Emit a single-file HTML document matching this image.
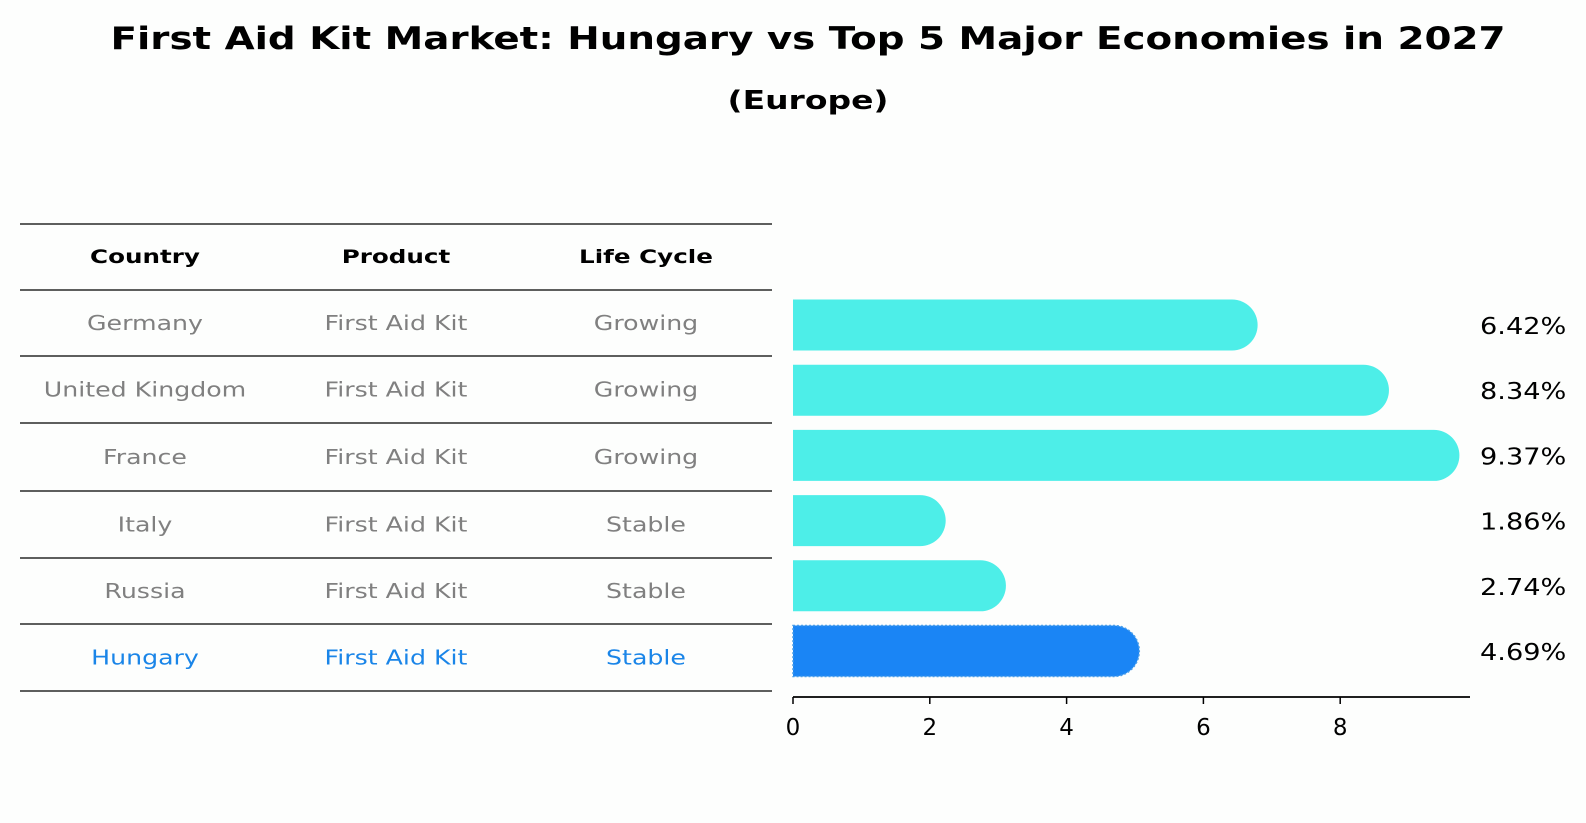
<!DOCTYPE html>
<html><head><meta charset="utf-8"><style>
body{margin:0;background:#fdfefd;}
svg{display:block;font-family:"DejaVu Sans","Liberation Sans",sans-serif;}
</style></head><body>
<svg id="c" width="1586" height="823" viewBox="0 0 1586 823">
<text x="808" y="49" text-anchor="middle" font-size="31" font-weight="bold" textLength="1395" lengthAdjust="spacingAndGlyphs">First Aid Kit Market: Hungary vs Top 5 Major Economies in 2027</text>
<text x="808" y="109" text-anchor="middle" font-size="26" font-weight="bold" textLength="161" lengthAdjust="spacingAndGlyphs">(Europe)</text>
<g id="tbl"></g>
<g id="bars"></g>
</svg>
<script>
const countries=["Germany","United Kingdom","France","Italy","Russia","Hungary"];
const products=["First Aid Kit","First Aid Kit","First Aid Kit","First Aid Kit","First Aid Kit","First Aid Kit"];
const lifecycle=["Growing","Growing","Growing","Stable","Stable","Stable"];
const values=[6.42,8.34,9.37,1.86,2.74,4.69];
const ticks=[0,2,4,6,8];
const NS="http://www.w3.org/2000/svg";
function mk(tag,attrs,parent,txt){const e=document.createElementNS(NS,tag);for(const k in attrs)e.setAttribute(k,attrs[k]);if(txt!==undefined)e.textContent=txt;parent.appendChild(e);return e;}
function widen(el,k){const w=el.getComputedTextLength();if(w>0){el.setAttribute('textLength',(w*k).toFixed(1));el.setAttribute('lengthAdjust','spacingAndGlyphs');}}
const tbl=document.getElementById('tbl'),bars=document.getElementById('bars');
const lineYs=[224,290,356,423,491,558,624,691];
const colX=[145,396,646];
lineYs.forEach((y,i)=>{const l=mk('line',{x1:20,x2:772,y1:y,y2:y,stroke:'#000','stroke-width':1.2},tbl);

});
["Country","Product","Life Cycle"].forEach((h,j)=>{const t=mk('text',{x:colX[j],y:263,'text-anchor':'middle','font-size':19,'font-weight':'bold'},tbl,h);


widen(t,1.45/1.12);});
countries.forEach((c,i)=>{const y=(lineYs[i+1]+lineYs[i+2])/2+7;const col=c==="Hungary"?'#1a85e8':'#808080';
[c,products[i],lifecycle[i]].forEach((v,j)=>{const t=mk('text',{x:colX[j],y:y,'text-anchor':'middle','font-size':20,fill:col},tbl,v);


widen(t,1.40/1.11);});});
const x0=793,ppu=68.4,axisY=697,bh=51,r=25.5;
const xs=v=>x0+v*ppu;
const yc=i=>325+i*65.2;
values.forEach((v,i)=>{const xe=xs(v),y=yc(i)-bh/2;const hun=countries[i]==="Hungary";
const d=`M${x0},${y} H${xe} A${r},${r} 0 0 1 ${xe},${y+bh} H${x0} Z`;
const p=mk('path',{d:d,fill:hun?'#1a85f5':'#4deee8'},bars);
if(hun){p.setAttribute('stroke','#4a9ee8');p.setAttribute('stroke-dasharray','2 2');p.setAttribute('stroke-width','1.5');}


const t=mk('text',{x:1480,y:yc(i)+9,'font-size':23},bars,v.toFixed(2)+'%');


widen(t,1.3/1.1);});
const ax=mk('line',{x1:x0,x2:1470,y1:axisY,y2:axisY,stroke:'#000','stroke-width':1.8},bars);


ticks.forEach(t=>{const tl=mk('line',{x1:xs(t),x2:xs(t),y1:axisY,y2:axisY+7,stroke:'#000','stroke-width':1.5},bars);


const lb=mk('text',{x:xs(t),y:axisY+38,'text-anchor':'middle','font-size':23},bars,String(t));

});
</script>
</body></html>
